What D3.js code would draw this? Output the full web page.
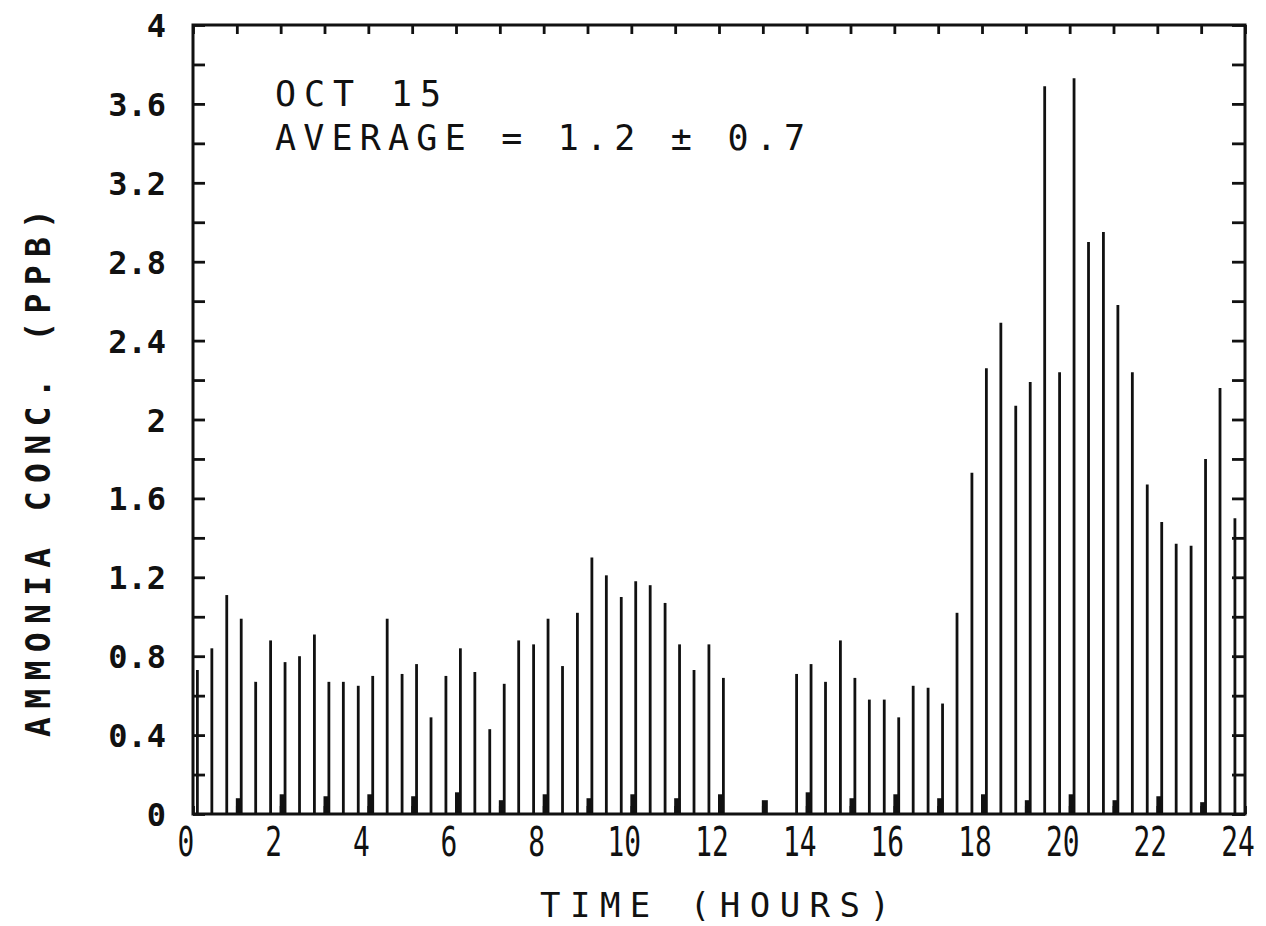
<!DOCTYPE html>
<html>
<head>
<meta charset="utf-8">
<script src="https://cdn.jsdelivr.net/npm/d3@7"></script>
<style>
  html, body { margin: 0; padding: 0; background: #fff; }
  svg { display: block; }
</style>
</head>
<body>
<svg id="chart" width="1266" height="926"></svg>
<script>
// ---- data ----
const times = [0.10,0.43,0.77,1.10,1.43,1.77,2.10,2.43,2.77,3.10,3.43,3.77,4.10,4.43,4.77,5.10,5.43,5.77,
  6.10,6.43,6.77,7.10,7.43,7.77,8.10,8.43,8.77,9.10,9.43,9.77,10.10,10.43,10.77,11.10,11.43,11.77,12.10,
  13.77,14.10,14.43,14.77,15.10,15.43,15.77,16.10,16.43,16.77,17.10,17.43,17.77,18.10,18.43,18.77,19.10,
  19.43,19.77,20.10,20.43,20.77,21.10,21.43,21.77,22.10,22.43,22.77,23.10,23.43,23.77];
const concentrations = [0.73,0.84,1.11,0.99,0.67,0.88,0.77,0.80,0.91,0.67,0.67,0.65,0.70,0.99,0.71,0.76,0.49,0.70,
  0.84,0.72,0.43,0.66,0.88,0.86,0.99,0.75,1.02,1.30,1.21,1.10,1.18,1.16,1.07,0.86,0.73,0.86,0.69,
  0.71,0.76,0.67,0.88,0.69,0.58,0.58,0.49,0.65,0.64,0.56,1.02,1.73,2.26,2.49,2.07,2.19,
  3.69,2.24,3.73,2.90,2.95,2.58,2.24,1.67,1.48,1.37,1.36,1.80,2.16,1.50];
const zeroTimes  = [1,2,3,4,5,6,7,8,9,10,11,12,13,14,15,16,17,18,19,20,21,22,23];
const zeroValues = [0.08,0.10,0.09,0.10,0.09,0.11,0.07,0.10,0.08,0.10,0.08,0.10,0.07,0.11,0.08,0.10,0.08,0.10,0.07,0.10,0.07,0.09,0.06];
const xTickValues = [0,2,4,6,8,10,12,14,16,18,20,22,24];
const yTickValues = [0,0.4,0.8,1.2,1.6,2,2.4,2.8,3.2,3.6,4];
const yTickLabels = ["0","0.4","0.8","1.2","1.6","2","2.4","2.8","3.2","3.6","4"];
const annotation = ["OCT 15", "AVERAGE = 1.2 \u00B1 0.7"];
const xTitle = "TIME  (HOURS)";
const yTitle = "AMMONIA CONC. (PPB)";

// ---- layout ----
const svg = d3.select("#chart");
const L = 193, R = 1245, T = 25, B = 814;
const x = d3.scaleLinear().domain([0, 24]).range([L, R]);
const y = d3.scaleLinear().domain([0, 4]).range([B, T]);
const ink = "#111";

// bars
svg.append("g").selectAll("line.bar").data(times).join("line")
  .attr("class", "bar")
  .attr("x1", d => x(d)).attr("x2", d => x(d))
  .attr("y1", y(0)).attr("y2", (d, i) => y(concentrations[i]))
  .attr("stroke", ink).attr("stroke-width", 2.8);

// hourly zero-check blips
svg.append("g").selectAll("line.blip").data(zeroTimes).join("line")
  .attr("x1", d => x(d) + 2).attr("x2", d => x(d) + 2)
  .attr("y1", y(0)).attr("y2", (d, i) => y(zeroValues[i]))
  .attr("stroke", ink).attr("stroke-width", 6);

// axes with inward ticks
const minorY = d3.range(0, 4.0001, 0.2);
const hoursAll = d3.range(0, 25, 1);
const axL = d3.axisRight(y).tickValues(minorY).tickSize(12).tickFormat("");
const axR = d3.axisLeft(y).tickValues(minorY).tickSize(13).tickFormat("");
const axT = d3.axisBottom(x).tickValues(hoursAll).tickSize(9).tickFormat("");
const axB = d3.axisTop(x).tickValues(hoursAll).tickSize(8).tickFormat("");
function styleAxis(g) {
  g.selectAll("path").remove();
  g.selectAll("line").attr("stroke", ink).attr("stroke-width", 2.8);
}
svg.append("g").attr("transform", `translate(${L},0)`).call(axL).call(styleAxis);
svg.append("g").attr("transform", `translate(${R},0)`).call(axR).call(styleAxis);
svg.append("g").attr("transform", `translate(0,${T})`).call(axT).call(styleAxis);
svg.append("g").attr("transform", `translate(0,${B})`).call(axB).call(styleAxis);

// frame
svg.append("rect").attr("x", L).attr("y", T).attr("width", R - L).attr("height", B - T)
  .attr("fill", "none").attr("stroke", ink).attr("stroke-width", 3);

// y tick labels
svg.append("g").selectAll("text").data(yTickValues).join("text")
  .attr("x", 166).attr("y", d => y(d) + 12)
  .attr("text-anchor", "end")
  .attr("font-family", "DejaVu Sans Mono").attr("font-weight", "bold")
  .attr("font-size", 32).attr("fill", ink)
  .text((d, i) => yTickLabels[i]);

// x tick labels (tall, condensed)
svg.append("g").selectAll("text").data(xTickValues).join("text")
  .attr("transform", d => `translate(${x(d) - 7},856) scale(0.68,1)`)
  .attr("text-anchor", "middle")
  .attr("font-family", "DejaVu Sans Mono")
  .attr("font-size", 41).attr("fill", ink)
  .text(d => String(d));

// annotation
svg.append("text").attr("x", 275).attr("y", 106)
  .attr("font-family", "DejaVu Sans Mono").attr("font-size", 35).attr("fill", ink)
  .attr("textLength", 166).attr("lengthAdjust", "spacing")
  .text(annotation[0]);
svg.append("text").attr("x", 275).attr("y", 150)
  .attr("font-family", "DejaVu Sans Mono").attr("font-size", 35).attr("fill", ink)
  .attr("textLength", 530).attr("lengthAdjust", "spacing")
  .text(annotation[1]);

// axis titles
svg.append("text").attr("x", 540).attr("y", 917)
  .attr("font-family", "DejaVu Sans Mono").attr("font-size", 34).attr("fill", ink)
  .attr("textLength", 350).attr("lengthAdjust", "spacing")
  .text(xTitle);
svg.append("text")
  .attr("transform", "translate(50,737) rotate(-90)")
  .attr("font-family", "DejaVu Sans Mono").attr("font-weight", "bold")
  .attr("font-size", 33).attr("fill", ink)
  .attr("textLength", 528).attr("lengthAdjust", "spacing")
  .text(yTitle);
</script>
</body>
</html>
